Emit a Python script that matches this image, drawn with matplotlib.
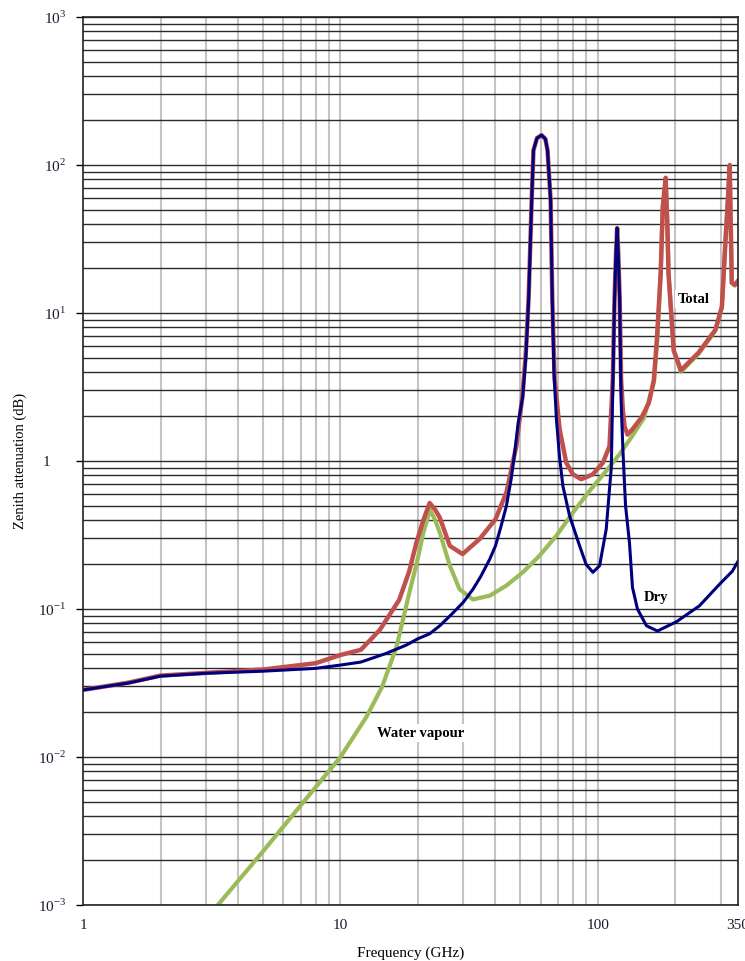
import matplotlib
matplotlib.use('Agg')
import matplotlib.pyplot as plt
from matplotlib.ticker import FixedLocator, NullLocator

plt.rcParams['font.family'] = ['Liberation Serif', 'DejaVu Serif']
plt.rcParams['mathtext.fontset'] = 'custom'
plt.rcParams['mathtext.rm'] = 'Liberation Serif'

# Zenith attenuation (frequency in GHz, attenuation in dB)
dry_freq = [1, 1.5, 2, 3, 5, 8, 10, 12, 15, 18, 20, 22.2, 24.3, 27, 30, 32.7, 35, 38,
            40, 42, 44.1, 46, 47.5, 49, 51, 52.5, 53.8, 55.3, 56.2, 58, 60.4, 62.5,
            63.7, 65.5, 66.5, 67.5, 69, 71, 73.1, 77.6, 84.9, 90, 95.6, 101.5, 107.7,
            110.5, 112.7, 114, 116, 117.5, 118.75, 120, 121.5, 123, 125, 128, 132.6,
            136.2, 142.4, 154.4, 170.3, 201.8, 247.8, 300, 332.8, 350]
dry_att = [0.0284, 0.0316, 0.0352, 0.0368, 0.038, 0.0397, 0.0418, 0.0438, 0.050,
           0.057, 0.063, 0.068, 0.077, 0.092, 0.111, 0.136, 0.165, 0.217,
           0.267, 0.36, 0.497, 0.75, 1.14, 1.8, 2.7, 5.0, 12.3, 58, 126, 152, 159, 150,
           126, 58, 12.3, 4.0, 1.9, 1.05, 0.678, 0.426, 0.267, 0.2, 0.177, 0.196, 0.346,
           0.6, 0.9, 2.6, 12, 25, 37.5, 25, 12, 2.6, 1.2, 0.5, 0.28,
           0.14, 0.1, 0.077, 0.071, 0.082, 0.105, 0.15, 0.18, 0.21]

wv_freq = [3.34, 5, 7, 10, 12.6, 14.5, 16.5, 18.5, 19.9, 21, 22.3, 23.3, 24.3, 26.6,
           29, 32.7, 38, 44.1, 51.1, 59.3, 68.9, 80, 92.8, 107.7, 121.3, 135, 150.8,
           165, 170, 175.3, 178.6, 183.3, 186, 188, 197, 210, 246, 286, 303, 313, 320,
           325, 331, 340, 350]
wv_att = [0.001, 0.0023, 0.0047, 0.0100, 0.0186, 0.0297, 0.0553, 0.128, 0.214, 0.33,
          0.467, 0.4, 0.329, 0.196, 0.136, 0.116, 0.123, 0.144, 0.177, 0.229, 0.312,
          0.449, 0.628, 0.857, 1.11, 1.45, 1.95, 3.4, 6.5, 18.5, 52, 80, 40, 18.5, 5.5,
          4.0, 5.3, 7.6, 10.9, 31, 60, 97, 16, 15.3, 16.3]

tot_freq = [1, 1.5, 2, 3, 5, 8, 10, 12, 14.2, 16.9, 18.5, 19.7, 21, 22.2, 23.3, 24.3,
            26.6, 29.8, 34.7, 40, 44.1, 48.2, 50.9, 52.5, 53.8, 55.3, 56.2, 58, 60.4,
            62.5, 63.7, 65.5, 66.5, 67.9, 71, 75.3, 80, 86.1, 95.6, 104.6, 110.9, 114.2,
            116, 117.5, 118.75, 120, 121.5, 123, 125, 127, 130.3, 135.5, 148, 157.7,
            164.9, 169.4, 175.3, 178.6, 183.3, 186, 188, 197, 210, 246, 286, 303, 313,
            320, 325, 331, 340, 350]
tot_att = [0.0284, 0.0318, 0.0355, 0.037, 0.039, 0.043, 0.0489, 0.053, 0.072, 0.115,
           0.18, 0.279, 0.4, 0.52, 0.47, 0.415, 0.267, 0.235, 0.297, 0.404, 0.612, 1.26,
           2.74, 5.5, 12.5, 58, 126, 152, 159, 150, 126, 58, 12.5, 3.56, 1.64, 0.975,
           0.813, 0.753, 0.813, 0.975, 1.26, 3.56, 12.5, 25, 37.5, 25, 12.5, 3.6, 2.2,
           1.7, 1.51, 1.62, 1.98, 2.47, 3.53, 6.6, 18.6, 52, 82, 40, 18.6, 5.6, 4.1,
           5.4, 7.7, 11, 31, 60, 100, 16, 15.5, 16.5]

x_ticks = [1, 10, 100, 350]
x_labels = ['1', '10', '100', '350']
y_ticks = [1e-3, 1e-2, 1e-1, 1, 10, 100, 1000]
y_labels = [r'$10^{-3}$', r'$10^{-2}$', r'$10^{-1}$', '1    ',
            r'$10^{1}$', r'$10^{2}$', r'$10^{3}$']

fig = plt.figure(figsize=(7.45, 9.61), dpi=100)
ax = fig.add_axes([83 / 745, 1 - 905 / 961, 655 / 745, 888 / 961])
ax.set_xscale('log')
ax.set_yscale('log')
ax.set_xlim(1, 350)
ax.set_ylim(1e-3, 1e3)

# grid: light grey verticals, dark horizontals (major and minor)
vgrid = [m * 10 ** d for d in range(0, 3) for m in range(1, 10) if 1 < m * 10 ** d < 350]
for v in vgrid:
    ax.axvline(v, color='#c4c4c4', lw=1.5, zorder=1)
hgrid = [m * 10.0 ** d for d in range(-3, 3) for m in range(1, 10)] + [1000]
for h in hgrid:
    ax.axhline(h, color='#2a2a2a', lw=1.0, zorder=1)

ax.plot(wv_freq, wv_att, color='#9bbb59', lw=3.0, zorder=3, solid_joinstyle='round')
ax.plot(tot_freq, tot_att, color='#c0504d', lw=3.2, zorder=4, solid_joinstyle='round')
ax.plot(dry_freq, dry_att, color='#00007f', lw=2.2, zorder=5, solid_joinstyle='round')

box = dict(facecolor='white', edgecolor='none', pad=2)
ax.text(236, 12.4, 'Total', fontsize=10.5, fontweight='bold', ha='center', va='center', zorder=6, bbox=box)
ax.text(168, 0.12, 'Dry', fontsize=10.5, fontweight='bold', ha='center', va='center', zorder=6, bbox=box)
ax.text(20.4, 0.0145, 'Water vapour', fontsize=10.5, fontweight='bold', ha='center', va='center', zorder=6, bbox=box)

ax.xaxis.set_major_locator(FixedLocator(x_ticks))
ax.xaxis.set_minor_locator(NullLocator())
ax.set_xticklabels(x_labels)
ax.yaxis.set_major_locator(FixedLocator(y_ticks))
ax.yaxis.set_minor_locator(NullLocator())
ax.set_yticklabels(y_labels)
ax.tick_params(axis='x', length=0, pad=10, labelsize=11, labelcolor='#1a1a2e')
ax.tick_params(axis='y', length=5, width=1, pad=7, labelsize=11, labelcolor='#1a1a2e')

for s in ax.spines.values():
    s.set_color('#222222')
    s.set_linewidth(1.2)
    s.set_zorder(7)

ax.set_xlabel('Frequency (GHz)', fontsize=11)
ax.xaxis.set_label_coords(0.5, -0.047)
ax.set_ylabel('Zenith attenuation (dB)', fontsize=10.5)
ax.yaxis.set_label_coords(-0.085, 0.5)

fig.savefig('out.png', dpi=100)
